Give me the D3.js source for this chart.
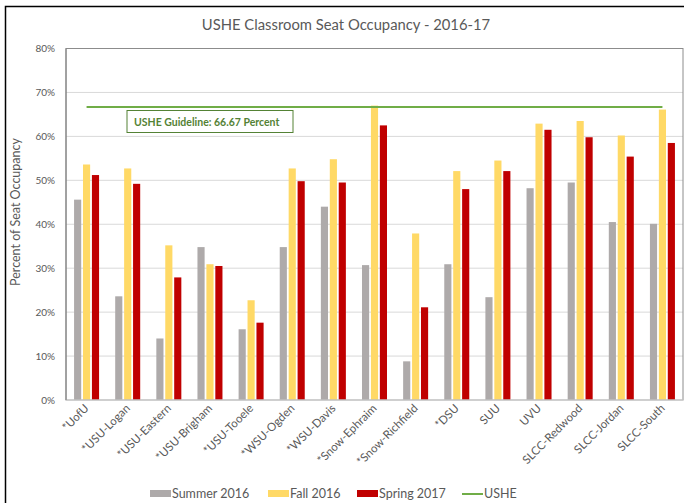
<!DOCTYPE html>
<html>
<head>
<meta charset="utf-8">
<script src="https://cdn.jsdelivr.net/npm/d3@7"></script>
<style>
body { margin: 0; background: #fff; }
svg { font-family: Lato, "Open Sans", sans-serif; }
</style>
</head>
<body>
<svg></svg>
<script>
const campuses = ['*UofU', '*USU-Logan', '*USU-Eastern', '*USU-Brigham', '*USU-Tooele', '*WSU-Ogden',
    '*WSU-Davis', '*Snow-Ephraim', '*Snow-Richfield', '*DSU', 'SUU', 'UVU', 'SLCC-Redwood', 'SLCC-Jordan', 'SLCC-South'];
const summer2016 = [45.6, 23.6, 14.0, 34.8, 16.1, 34.8, 44.0, 30.7, 8.8, 30.9, 23.4, 48.2, 49.5, 40.5, 40.1];
const fall2016 = [53.6, 52.7, 35.2, 30.9, 22.7, 52.7, 54.8, 67.0, 37.9, 52.1, 54.5, 62.9, 63.5, 60.2, 66.1];
const spring2017 = [51.2, 49.2, 27.9, 30.5, 17.6, 49.8, 49.5, 62.5, 21.1, 48.0, 52.1, 61.5, 59.8, 55.4, 58.5];
const usheGuideline = 66.67;
const yTicks = [0, 10, 20, 30, 40, 50, 60, 70, 80];
const seriesNames = ['Summer 2016', 'Fall 2016', 'Spring 2017'];

const HEIGHT = 503;
const WIDTH = 684;
const LEFT = 66, RIGHT = 683, TOP = 48.5, BOTTOM = 400;

let svg = d3.select('svg').attr('height', HEIGHT).attr('width', WIDTH);

// outer frame (cut off on right and bottom like the screenshot)
svg.append('rect').attr('x', 5.5).attr('y', 6.5).attr('width', 700).attr('height', 520)
    .style('fill', 'none').style('stroke', '#000').style('stroke-width', 1.5);

let yScale = d3.scaleLinear().domain([0, 80]).range([BOTTOM, TOP]);
let xScale = d3.scaleBand().domain(campuses).range([LEFT, RIGHT]);
let inner = d3.scaleBand().domain(seriesNames).range([-12.5, 12.5]).paddingInner(0.2);
const colours = { 'Summer 2016': '#AEAAAA', 'Fall 2016': '#FFD966', 'Spring 2017': '#C00000' };

// gridlines
svg.append('g').selectAll('line').data(yTicks.slice(1, -1)).join('line')
    .attr('x1', LEFT).attr('x2', RIGHT)
    .attr('y1', d => yScale(d)).attr('y2', d => yScale(d))
    .style('stroke', '#d9d9d9').style('stroke-width', 1);

// y tick labels
svg.append('g').selectAll('text').data(yTicks).join('text')
    .attr('x', 55).attr('y', d => yScale(d) + 3.5)
    .attr('text-anchor', 'end').style('font-size', '10px').style('fill', '#595959')
    .text(d => d + '%');

// bars
const series = [summer2016, fall2016, spring2017];
series.forEach(function(vals, s) {
    svg.append('g').selectAll('rect').data(vals).join('rect')
        .attr('x', (d, i) => xScale(campuses[i]) + xScale.bandwidth() / 2 + inner(seriesNames[s]))
        .attr('y', d => yScale(d))
        .attr('width', inner.bandwidth())
        .attr('height', d => yScale(0) - yScale(d))
        .style('fill', colours[seriesNames[s]]);
});

// plot border
svg.append('rect').attr('x', LEFT).attr('y', TOP).attr('width', RIGHT - LEFT).attr('height', BOTTOM - TOP)
    .style('fill', 'none').style('stroke', '#8c8c8c').style('stroke-width', 1);
svg.append('line').attr('x1', LEFT).attr('x2', RIGHT).attr('y1', BOTTOM).attr('y2', BOTTOM)
    .style('stroke', '#d9d9d9');
svg.append('line').attr('x1', LEFT).attr('x2', LEFT).attr('y1', TOP).attr('y2', BOTTOM)
    .style('stroke', '#7f7f7f');

// USHE line
let lineData = campuses.map(c => [xScale(c) + xScale.bandwidth() / 2, yScale(usheGuideline)]);
svg.append('path').attr('d', d3.line()(lineData))
    .style('fill', 'none').style('stroke', '#70AD47').style('stroke-width', 2);

// annotation
svg.append('rect').attr('x', 127).attr('y', 110.5).attr('width', 166).attr('height', 22)
    .style('fill', '#fff').style('stroke', '#548235').style('stroke-width', 1);
svg.append('text').attr('x', 134).attr('y', 125.5)
    .style('font-size', '10.5px').style('font-weight', 'bold').style('fill', '#548235')
    .text('USHE Guideline: ' + usheGuideline + ' Percent');

// x labels
svg.append('g').selectAll('text').data(campuses).join('text')
    .attr('transform', d => `translate(${xScale(d) + xScale.bandwidth() / 2 + 3},${BOTTOM + 9}) rotate(-45)`)
    .attr('text-anchor', 'end').style('font-size', '11.5px').style('fill', '#595959')
    .text(d => d);

// title
svg.append('text').attr('x', 346).attr('y', 30).attr('text-anchor', 'middle')
    .style('font-size', '14.8px').style('fill', '#595959')
    .text('USHE Classroom Seat Occupancy - 2016-17');

// y axis title
svg.append('text').attr('transform', 'translate(20,212) rotate(-90)').attr('text-anchor', 'middle')
    .style('font-size', '12.5px').style('fill', '#595959')
    .text('Percent of Seat Occupancy');

// legend
const legendX = [150, 268, 357];
seriesNames.forEach(function(name, i) {
    svg.append('rect').attr('x', legendX[i]).attr('y', 490).attr('width', 21).attr('height', 7)
        .style('fill', colours[name]);
    svg.append('text').attr('x', legendX[i] + 22).attr('y', 498)
        .style('font-size', '12.5px').style('fill', '#595959').text(name);
});
svg.append('line').attr('x1', 462).attr('x2', 483).attr('y1', 494).attr('y2', 494)
    .style('stroke', '#70AD47').style('stroke-width', 2);
svg.append('text').attr('x', 484).attr('y', 498)
    .style('font-size', '12.5px').style('fill', '#595959').text('USHE');
</script>
</body>
</html>
